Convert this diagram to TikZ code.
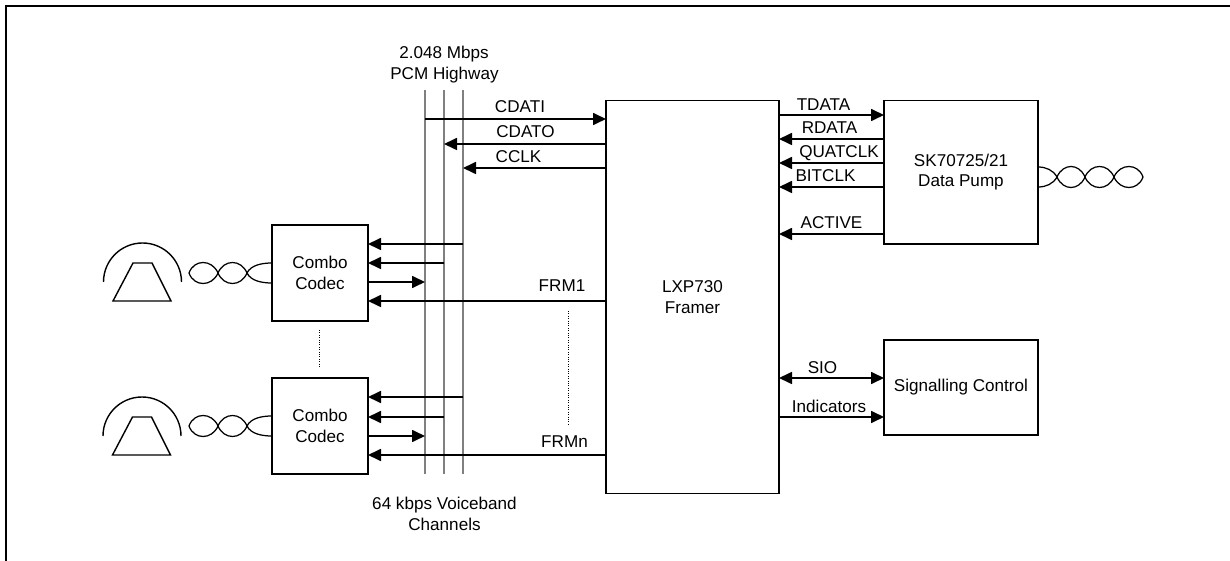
\documentclass[tikz,border=0pt]{standalone}
\usepackage{fontspec}
\setmainfont{Liberation Sans}
\usetikzlibrary{arrows.meta}
\tikzset{
  box/.style={draw=black,line width=1.7bp,inner sep=0pt,outer sep=0pt,align=center,font=\diagfont},
  lbl/.style={inner sep=0pt,outer sep=0pt,anchor=base,font=\diagfont,align=center},
  sig/.style={line width=1.7bp,-{Triangle[length=13bp,width=12bp]}},
  bisig/.style={line width=1.7bp,{Triangle[length=13bp,width=12bp]}-{Triangle[length=13bp,width=12bp]}},
  bus/.style={line width=1.1bp,draw=black!50},
  frameline/.style={line width=2bp,draw=black},
  dots/.style={line width=0.75bp,dash pattern=on 1bp off 1.4bp},
  twist/.style={line width=1.25bp},
  icon/.style={line width=1.4bp},
}
\newcommand{\diagfont}{\fontsize{17.1bp}{20.5bp}\selectfont}
\newcommand{\phoneicon}{%
  \draw[icon] (-39,0) arc[start angle=180,end angle=360,radius=39];
  \draw[icon] (-29.5,19) -- (-9.5,-19) -- (9.5,-19) -- (28.5,19) -- cycle;
}
\newcommand{\twistleft}{%
  \draw[twist] (-83,0) .. controls (-78,-14) and (-60,-14) .. (-54,0)
     .. controls (-48,14) and (-31,14) .. (-25,0)
     .. controls (-21,-8) and (-10,-10) .. (0,-10);
  \draw[twist] (-83,0) .. controls (-78,14) and (-60,14) .. (-54,0)
     .. controls (-48,-14) and (-31,-14) .. (-25,0)
     .. controls (-21,8) and (-10,10) .. (0,10);
}
\newcommand{\twistright}{%
  \draw[twist] (0,-10) .. controls (8,-10) and (15,-7) .. (19,0)
     .. controls (25,14) and (41,14) .. (47,0)
     .. controls (53,-14) and (70,-14) .. (76,0)
     .. controls (82,14) and (100,14) .. (105,0);
  \draw[twist] (0,10) .. controls (8,10) and (15,7) .. (19,0)
     .. controls (25,-14) and (41,-14) .. (47,0)
     .. controls (53,14) and (70,14) .. (76,0)
     .. controls (82,-14) and (100,-14) .. (105,0);
}
\begin{document}
\begin{tikzpicture}[x=1bp,y=-1bp]
\useasboundingbox (0,0) rectangle (1230,561);
% outer frame (left and top edges only)
\coordinate (frameBL) at (5.5,561);
\coordinate (frameTL) at (5.5,6.5);
\coordinate (frameTR) at (1230,6.5);
\draw[frameline] (frameBL) -- (frameTL) -- (frameTR);

% boxes
\node[box,minimum width=173bp,minimum height=393bp] (framer) at (692.5,297) {LXP730\\Framer};
\node[box,minimum width=154bp,minimum height=143.5bp] (pump) at (961,172.3) {SK70725/21\\Data Pump};
\node[box,minimum width=154bp,minimum height=95bp] (ctrl) at (961,387.5) {Signalling Control};
\node[box,minimum width=96bp,minimum height=96bp] (codecA) at (320,273) {Combo\\Codec};
\node[box,minimum width=96bp,minimum height=96bp] (codecB) at (320,426) {Combo\\Codec};

% PCM highway
\coordinate (busAt) at (425,90.5); \coordinate (busAb) at (425,474);
\coordinate (busBt) at (444,90.5); \coordinate (busBb) at (444,474);
\coordinate (busCt) at (463,90.5); \coordinate (busCb) at (463,474);
\draw[bus] (busAt) -- (busAb);
\draw[bus] (busBt) -- (busBb);
\draw[bus] (busCt) -- (busCb);

% highway to framer
\draw[sig] (busAt |- 0,119) -- (framer.west |- 0,119);
\draw[sig] (framer.west |- 0,144) -- (busBt |- 0,144);
\draw[sig] (framer.west |- 0,168) -- (busCt |- 0,168);

% codec A
\draw[sig] (busCt |- 0,244) -- (codecA.east |- 0,244);
\draw[sig] (busBt |- 0,263) -- (codecA.east |- 0,263);
\draw[sig] (codecA.east |- 0,282) -- (busAt |- 0,282);
\draw[sig] (framer.west |- 0,301) -- (codecA.east |- 0,301);
% codec B
\draw[sig] (busCt |- 0,397) -- (codecB.east |- 0,397);
\draw[sig] (busBt |- 0,417) -- (codecB.east |- 0,417);
\draw[sig] (codecB.east |- 0,436) -- (busAt |- 0,436);
\draw[sig] (framer.west |- 0,455) -- (codecB.east |- 0,455);

% framer to pump
\draw[sig] (framer.east |- 0,115) -- (pump.west |- 0,115);
\draw[sig] (pump.west |- 0,139) -- (framer.east |- 0,139);
\draw[sig] (pump.west |- 0,163) -- (framer.east |- 0,163);
\draw[sig] (pump.west |- 0,187) -- (framer.east |- 0,187);
\draw[sig] (pump.west |- 0,234) -- (framer.east |- 0,234);
% framer to control
\draw[bisig] (framer.east |- 0,378) -- (ctrl.west |- 0,378);
\draw[sig] (framer.east |- 0,417) -- (ctrl.west |- 0,417);

% dotted continuation marks
\coordinate (dotAt) at (319,330); \coordinate (dotAb) at (319,367);
\coordinate (dotBt) at (568,311); \coordinate (dotBb) at (568,426);
\draw[dots] (dotAt) -- (dotAb);
\draw[dots] (dotBt) -- (dotBb);

% twisted pairs
\begin{scope}[shift={(codecA.west)}]\twistleft\end{scope}
\begin{scope}[shift={(codecB.west)}]\twistleft\end{scope}
\begin{scope}[shift={(pump.east |- 0,177)}]\twistright\end{scope}

% phone icons
\begin{scope}[shift={(142.5,282)}]\phoneicon\end{scope}
\begin{scope}[shift={(142,436)}]\phoneicon\end{scope}

% labels
\node[lbl] (lblRateA) at (444,59) {2.048 Mbps};
\node[lbl] (lblRateB) at (444.5,80) {PCM Highway};
\node[lbl] (lblCdati) at (520,113) {CDATI};
\node[lbl] (lblCdato) at (525.5,138) {CDATO};
\node[lbl] (lblCclk) at (518.5,163) {CCLK};
\node[lbl] (lblFrmA) at (562,292) {FRM1};
\node[lbl] (lblFrmB) at (564.5,447) {FRMn};
\node[lbl] (lblVoiceA) at (444.5,509) {64 kbps Voiceband};
\node[lbl] (lblVoiceB) at (444.5,530) {Channels};
\node[lbl] (lblTdata) at (823.5,110.5) {TDATA};
\node[lbl] (lblRdata) at (829.5,134) {RDATA};
\node[lbl] (lblQuat) at (839,158) {QUATCLK};
\node[lbl] (lblBit) at (825.5,182) {BITCLK};
\node[lbl] (lblActive) at (831.5,229) {ACTIVE};
\node[lbl] (lblSio) at (822.5,374) {SIO};
\node[lbl] (lblInd) at (829,412) {Indicators};
\end{tikzpicture}
\end{document}
